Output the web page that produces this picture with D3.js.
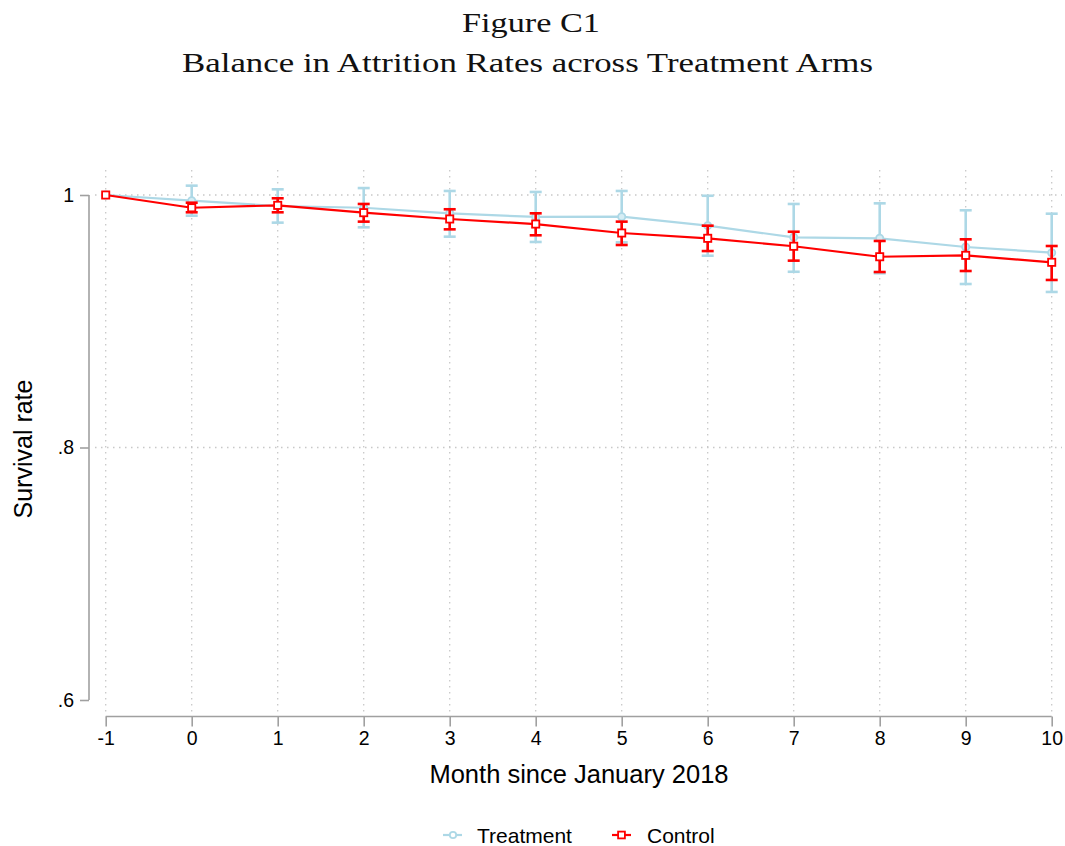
<!DOCTYPE html>
<html><head><meta charset="utf-8">
<script src="https://cdn.jsdelivr.net/npm/d3@7"></script>
<style>body{margin:0;background:#fff}svg{display:block}</style>
</head><body>
<svg id="chart" width="1065" height="846"></svg>
<script>
const months = [-1,0,1,2,3,4,5,6,7,8,9,10];
const treatMean = [1.000,0.9955,0.9913,0.9899,0.9855,0.9826,0.9828,0.9757,0.9665,0.9657,0.9588,0.9543];
const treatLo   = [1.000,0.9836,0.9781,0.9744,0.9670,0.9628,0.9625,0.9519,0.9392,0.9380,0.9295,0.9232];
const treatHi   = [1.000,1.0074,1.0045,1.0055,1.0032,1.0024,1.0032,0.9994,0.9929,0.9934,0.9879,0.9852];
const ctrlMean  = [1.000,0.9899,0.9918,0.9860,0.9810,0.9770,0.9699,0.9657,0.9594,0.9511,0.9522,0.9467];
const ctrlLo    = [1.000,0.9863,0.9863,0.9789,0.9728,0.9681,0.9604,0.9556,0.9480,0.9390,0.9398,0.9327];
const ctrlHi    = [1.000,0.9939,0.9974,0.9929,0.9887,0.9855,0.9789,0.9757,0.9709,0.9636,0.9649,0.9596];
const yTicks = [0.6,0.8,1];
const yTickLabels = [".6",".8","1"];
const xTickLabels = ["-1","0","1","2","3","4","5","6","7","8","9","10"];
const titleLines = ["Figure C1","Balance in Attrition Rates across Treatment Arms"];
const xTitle = "Month since January 2018";
const yTitle = "Survival rate";
const legendLabels = ["Treatment","Control"];

const svg = d3.select("#chart");
const x = d3.scaleLinear().domain([-1,10]).range([105.7,1051.7]);
const y = d3.scaleLinear().domain([0.6,1]).range([700,195]);
const blue = "#add8e6", red = "#ff0000", axisCol = "#a0a0a0", gridCol = "#c8c8c8";
const sans = "'Liberation Sans', Arial, sans-serif";
const serif = "'Liberation Serif', 'DejaVu Serif', serif";

// title
svg.append("text").attr("x",531).attr("y",31.5).attr("text-anchor","middle")
  .attr("font-family",serif).attr("font-size",28).attr("fill","#111")
  .attr("textLength",138).attr("lengthAdjust","spacingAndGlyphs").text(titleLines[0]);
svg.append("text").attr("x",527.5).attr("y",71.5).attr("text-anchor","middle")
  .attr("font-family",serif).attr("font-size",28).attr("fill","#111")
  .attr("textLength",691).attr("lengthAdjust","spacingAndGlyphs").text(titleLines[1]);

// grid
const g = svg.append("g");
g.selectAll("line.vg").data(months).join("line")
  .attr("x1",d=>x(d)).attr("x2",d=>x(d)).attr("y1",170).attr("y2",712)
  .attr("stroke",gridCol).attr("stroke-width",1.3).attr("stroke-dasharray","1.5,4.5");
g.selectAll("line.hg").data(yTicks.filter(v=>v>0.6)).join("line")
  .attr("x1",95).attr("x2",1062).attr("y1",d=>y(d)).attr("y2",d=>y(d))
  .attr("stroke",gridCol).attr("stroke-width",1.3).attr("stroke-dasharray","1.5,4.5");

// y axis
const yAxis = d3.axisLeft(y).tickValues(yTicks).tickFormat((d,i)=>yTickLabels[i]).tickSize(9).tickPadding(6);
const ya = svg.append("g").attr("transform","translate(89,0)").call(yAxis);
ya.select(".domain").attr("stroke",axisCol).attr("stroke-width",1.6).attr("d","M-0,195V700");
ya.selectAll(".tick line").attr("stroke",axisCol).attr("stroke-width",1.6);
ya.selectAll(".tick text").attr("font-family",sans).attr("font-size",19.5).attr("fill","#000");

// x axis
const xAxis = d3.axisBottom(x).tickValues(months).tickFormat((d,i)=>xTickLabels[i]).tickSize(10).tickPadding(5);
const xa = svg.append("g").attr("transform","translate(0,716.5)").call(xAxis);
xa.select(".domain").attr("stroke",axisCol).attr("stroke-width",1.6).attr("d","M105.7,0H1051.7");
xa.selectAll(".tick line").attr("stroke",axisCol).attr("stroke-width",1.6);
xa.selectAll(".tick text").attr("font-family",sans).attr("font-size",19.5).attr("fill","#000");

// axis titles
svg.append("text").attr("x",579).attr("y",783).attr("text-anchor","middle")
  .attr("font-family",sans).attr("font-size",25.5).attr("fill","#000").text(xTitle);
svg.append("text").attr("transform","translate(31.5,449) rotate(-90)").attr("text-anchor","middle")
  .attr("font-family",sans).attr("font-size",25).attr("fill","#000").text(yTitle);

function series(mean, lo, hi, color, shape) {
  const data = months.map((m,i)=>({m, v:mean[i], lo:lo[i], hi:hi[i]}));
  const sg = svg.append("g");
  const eb = data.filter(d=>d.hi!==d.lo);
  sg.selectAll("line.eb").data(eb).join("line")
    .attr("x1",d=>x(d.m)).attr("x2",d=>x(d.m)).attr("y1",d=>y(d.lo)).attr("y2",d=>y(d.hi))
    .attr("stroke",color).attr("stroke-width",2.6);
  ["lo","hi"].forEach(k=>{
    sg.selectAll("line.cap"+k).data(eb).join("line")
      .attr("x1",d=>x(d.m)-6).attr("x2",d=>x(d.m)+6).attr("y1",d=>y(d[k])).attr("y2",d=>y(d[k]))
      .attr("stroke",color).attr("stroke-width",2.6);
  });
  sg.append("path").datum(data)
    .attr("d",d3.line().x(d=>x(d.m)).y(d=>y(d.v)))
    .attr("fill","none").attr("stroke",color).attr("stroke-width",2.2);
  if (shape==="circle") {
    sg.selectAll("circle.mk").data(data).join("circle")
      .attr("cx",d=>x(d.m)).attr("cy",d=>y(d.v)).attr("r",3.6)
      .attr("fill","#d6edf4").attr("stroke",color).attr("stroke-width",1.8);
  } else {
    sg.selectAll("rect.mk").data(data).join("rect")
      .attr("x",d=>x(d.m)-3.6).attr("y",d=>y(d.v)-3.6).attr("width",7.2).attr("height",7.2)
      .attr("fill","#fff").attr("stroke",color).attr("stroke-width",1.8);
  }
}
series(treatMean, treatLo, treatHi, blue, "circle");
series(ctrlMean, ctrlLo, ctrlHi, red, "square");

// legend
const lg = svg.append("g");
const items = [{x:443, tx:477, label:legendLabels[0], color:blue, shape:"circle"},
               {x:612, tx:647, label:legendLabels[1], color:red, shape:"square"}];
items.forEach(it=>{
  lg.append("line").attr("x1",it.x).attr("x2",it.x+19).attr("y1",835).attr("y2",835)
    .attr("stroke",it.color).attr("stroke-width",2.2);
  if (it.shape==="circle") lg.append("circle").attr("cx",it.x+10).attr("cy",835).attr("r",3.2)
    .attr("fill","#fff").attr("stroke",it.color).attr("stroke-width",1.8);
  else lg.append("rect").attr("x",it.x+9.5-3.4).attr("y",835-3.4).attr("width",6.8).attr("height",6.8)
    .attr("fill","#fff").attr("stroke",it.color).attr("stroke-width",1.8);
  lg.append("text").attr("x",it.tx).attr("y",842.5).attr("font-family",sans).attr("font-size",21)
    .attr("fill","#000").text(it.label);
});
</script>
</body></html>
